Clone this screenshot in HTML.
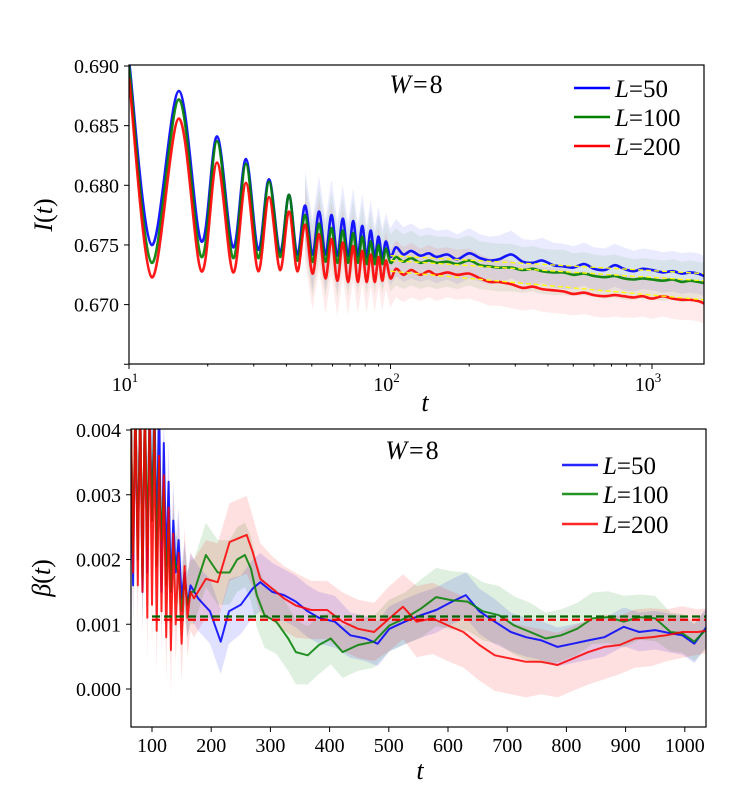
<!DOCTYPE html>
<html><head><meta charset="utf-8"><style>
html,body{margin:0;padding:0;background:#fff}
svg{display:block;font-family:"Liberation Serif",serif}
</style></head><body>
<svg id="chart" width="731" height="795" viewBox="0 0 731 795" xmlns="http://www.w3.org/2000/svg">
<defs>
<clipPath id="clipT"><rect x="129" y="65" width="575" height="299"/></clipPath>
<clipPath id="clipB"><rect x="131" y="429" width="575" height="298"/></clipPath>
</defs>
<g id="topPanel"></g>
<g id="botPanel"></g>
</svg>
<script>
// ---------- top panel data ----------
const tTop = [10,12.2,15.5,18.9,21.7,25,28,31.2,34.3,37.8,40.9,44,47.1,50.3,53.3,56.4,59.5,62.6,65.7,68.8,72,75,78,81,84,87,90,93,96,100,
105,112,120,130,140,150,165,180,200,220,240,260,290,320,350,380,420,460,500,550,600,660,720,780,850,920,1000,1100,1200,1300,1400,1500,1580];
const iL50 = [0.6905,0.6750,0.6879,0.6753,0.6841,0.6748,0.6822,0.6746,0.6805,0.6744,0.6792,0.6742,0.6783,0.6742,0.6778,0.6742,0.6775,0.6741,0.6772,0.6741,0.6770,0.6741,0.6766,0.6740,0.6762,0.6740,0.6757,0.6739,0.6753,0.6740,
0.6748,0.6742,0.6745,0.6741,0.6743,0.6740,0.6742,0.6738,0.6743,0.6739,0.6737,0.6738,0.6742,0.6736,0.6735,0.6737,0.6733,0.6732,0.6731,0.6734,0.6730,0.6729,0.6733,0.6730,0.6728,0.6730,0.6729,0.6727,0.6728,0.6726,0.6727,0.6726,0.6724];
const iL100 = [0.6900,0.6735,0.6872,0.6740,0.6837,0.6739,0.6818,0.6739,0.6803,0.6740,0.6792,0.6737,0.6775,0.6736,0.6768,0.6736,0.6764,0.6735,0.6762,0.6735,0.6760,0.6735,0.6757,0.6734,0.6753,0.6734,0.6750,0.6734,0.6747,0.6735,
0.6740,0.6736,0.6739,0.6735,0.6737,0.6735,0.6736,0.6734,0.6737,0.6733,0.6732,0.6731,0.6731,0.6729,0.6730,0.6728,0.6727,0.6727,0.6725,0.6726,0.6724,0.6723,0.6724,0.6722,0.6721,0.6722,0.6721,0.6720,0.6721,0.6719,0.6720,0.6719,0.6718];
const iL200 = [0.6890,0.6723,0.6856,0.6728,0.6819,0.6727,0.6802,0.6728,0.6790,0.6729,0.6778,0.6728,0.6767,0.6726,0.6759,0.6722,0.6755,0.6720,0.6752,0.6719,0.6749,0.6719,0.6745,0.6719,0.6742,0.6719,0.6740,0.6720,0.6737,0.6722,
0.6730,0.6725,0.6729,0.6725,0.6728,0.6725,0.6727,0.6725,0.6726,0.6722,0.6719,0.6719,0.6717,0.6714,0.6715,0.6713,0.6712,0.6711,0.6709,0.6710,0.6708,0.6707,0.6708,0.6707,0.6706,0.6707,0.6705,0.6707,0.6705,0.6704,0.6704,0.6703,0.6701];
const bandTop = [0,0,0,0,0,0,0,0,0,0,0,0,0.003,0.003,0.003,0.003,0.003,0.003,0.0028,0.0028,0.0028,0.0027,0.0027,0.0026,0.0026,0.0025,0.0025,0.0025,0.0024,0.0024,
0.0024,0.0023,0.0023,0.0022,0.0022,0.0022,0.0021,0.0021,0.0021,0.0020,0.0020,0.0020,0.0020,0.0019,0.0019,0.0019,0.0019,0.0019,0.0018,0.0018,0.0018,0.0018,0.0018,0.0018,0.0017,0.0017,0.0017,0.0017,0.0017,0.0017,0.0017,0.0017,0.0017];
const fitT = [100,1580];
const fit50 = [0.6741,0.6726];
const fit100 = [0.6737,0.6720];
const fit200 = [0.6728,0.6704];
const yTicksTop = [0.690,0.685,0.680,0.675,0.670,0.665];
const yTickLabelsTop = ["0.690","0.685","0.680","0.675","0.670",""];
const xMajorTop = [10,100,1000];
const xMajorLabelsTop = ["1","2","3"];

// ---------- bottom panel data (beta in units of 1e-3) ----------
const tB50 = [64,68,72,76,80,84,88,92,96,100,104,108,112,116,120,124,128,132,136,140,145,150,155,160,165,
178,198,216,230,250,270,283,303,323,343,363,382,409,435,461,481,501,527,554,580,607,630,653,679,706,732,758,785,811,837,864,897,923,950,976,996,1016,1036];
const bL50 = [4.5,1.6,4.5,2.0,4.5,1.5,4.5,1.8,4.5,2.6,4.5,2.2,4.5,1.5,3.8,1.9,3.2,1.5,2.6,1.8,2.3,1.4,1.8,1.3,1.6,
1.40,1.20,0.73,1.20,1.30,1.55,1.65,1.50,1.45,1.35,1.20,1.10,1.04,0.83,0.78,0.70,0.93,1.04,1.14,1.22,1.35,1.45,1.20,1.04,0.88,0.80,0.75,0.65,0.70,0.75,0.80,0.96,0.88,0.91,0.86,0.83,0.70,0.95];
const hw50 = [0.6,0.6,0.6,0.6,0.6,0.6,0.6,0.6,0.6,0.6,0.6,0.6,0.6,0.6,0.6,0.6,0.6,0.6,0.6,0.5,0.5,0.5,0.5,0.5,0.5,
0.5,0.5,0.5,0.5,0.45,0.45,0.45,0.45,0.4,0.4,0.4,0.4,0.4,0.35,0.35,0.35,0.35,0.35,0.35,0.35,0.35,0.35,0.35,0.35,0.3,0.3,0.3,0.3,0.3,0.3,0.3,0.3,0.3,0.3,0.3,0.3,0.3,0.3];
const tB100 = [64,68,72,76,80,84,88,92,96,100,104,108,112,116,120,124,128,132,136,140,145,150,155,160,165,
171,191,211,231,244,257,267,277,290,310,330,343,363,382,402,422,448,475,501,527,554,580,607,633,659,686,712,739,765,791,818,844,870,897,923,950,976,996,1016,1036];
const bL100 = [4.5,2.1,4.5,2.0,4.5,1.7,4.5,2.2,4.2,2.6,4.3,1.9,3.5,2.3,3.1,1.6,2.6,1.5,2.2,1.9,1.8,1.2,1.7,1.3,1.5,
1.50,2.07,1.80,1.80,2.00,2.07,1.86,1.45,1.14,1.04,0.78,0.57,0.52,0.68,0.78,0.57,0.68,0.73,0.98,1.09,1.24,1.42,1.37,1.35,1.20,1.14,0.98,0.88,0.78,0.83,0.93,1.09,1.11,1.04,1.11,1.09,0.88,0.86,0.73,0.92];
const hw100 = [0.6,0.6,0.6,0.6,0.6,0.6,0.6,0.6,0.6,0.6,0.6,0.6,0.6,0.6,0.6,0.6,0.6,0.6,0.6,0.5,0.5,0.5,0.5,0.5,0.5,
0.5,0.5,0.5,0.5,0.5,0.5,0.5,0.5,0.5,0.5,0.5,0.5,0.45,0.45,0.4,0.4,0.4,0.4,0.4,0.4,0.45,0.45,0.45,0.45,0.45,0.45,0.45,0.45,0.4,0.4,0.4,0.4,0.4,0.4,0.35,0.35,0.3,0.3,0.3,0.3];
const tB200 = [64,68,72,76,80,84,88,92,96,100,104,108,112,116,120,124,128,132,136,140,145,150,155,160,165,
171,191,211,231,244,260,270,283,303,323,343,369,396,422,448,475,501,524,547,574,600,626,653,679,706,732,758,785,811,837,864,890,916,943,969,996,1022,1036];
const bL200 = [4.5,1.8,4.5,1.6,4.5,1.5,4.5,1.1,4.4,1.3,4.1,0.9,3.6,1.2,3.3,0.8,2.8,0.6,2.4,1.0,2.1,0.7,1.9,1.1,1.5,
1.40,1.70,1.65,2.27,2.32,2.38,2.12,1.70,1.55,1.40,1.29,1.22,1.22,1.04,0.93,0.88,1.09,1.27,1.04,1.09,0.98,0.88,0.68,0.52,0.47,0.42,0.42,0.37,0.47,0.57,0.65,0.68,0.78,0.80,0.83,0.88,0.88,0.90];
const hw200 = [0.7,0.7,0.7,0.7,0.7,0.7,0.7,0.7,0.7,0.7,0.7,0.7,0.7,0.7,0.7,0.7,0.7,0.7,0.7,0.6,0.6,0.6,0.6,0.6,0.6,
0.6,0.6,0.6,0.6,0.6,0.6,0.55,0.55,0.5,0.5,0.5,0.45,0.45,0.45,0.45,0.45,0.5,0.5,0.55,0.55,0.55,0.55,0.55,0.55,0.55,0.55,0.5,0.5,0.5,0.5,0.5,0.45,0.45,0.45,0.4,0.4,0.35,0.35];
const constT = [100,1036];
const const100 = 1.12;
const const200 = 1.07;
const yTicksBot = [0,1,2,3,4];
const yTickLabelsBot = ["0.000","0.001","0.002","0.003","0.004"];
const xTicksBot = [100,200,300,400,500,600,700,800,900,1000];

// ---------- helpers ----------
const NS = "http://www.w3.org/2000/svg";
function mk(tag, attrs, parent){const e=document.createElementNS(NS,tag);for(const k in attrs)e.setAttribute(k,attrs[k]);parent.appendChild(e);return e;}
const xT = t => 129 + (Math.log10(t)-1)*261.5;
const yT = v => 66 + (0.690 - v)/0.001*11.93;
const xB = t => 152 + (t-100)*0.592;
const yB = v => 689 - v*64.75;
function smooth(pts){
  let d = "M"+pts[0][0].toFixed(1)+","+pts[0][1].toFixed(1);
  for(let i=0;i<pts.length-1;i++){
    const p0=pts[Math.max(0,i-1)],p1=pts[i],p2=pts[i+1],p3=pts[Math.min(pts.length-1,i+2)];
    const c1=[p1[0]+(p2[0]-p0[0])/6,p1[1]+(p2[1]-p0[1])/6];
    const c2=[p2[0]-(p3[0]-p1[0])/6,p2[1]-(p3[1]-p1[1])/6];
    d+="C"+c1[0].toFixed(1)+","+c1[1].toFixed(1)+" "+c2[0].toFixed(1)+","+c2[1].toFixed(1)+" "+p2[0].toFixed(1)+","+p2[1].toFixed(1);
  }
  return d;
}
function poly(pts){return "M"+pts.map(p=>p[0].toFixed(1)+","+p[1].toFixed(1)).join("L");}
function txt(parent,x,y,s,size,anchor,extra){const e=mk("text",Object.assign({x:x,y:y,"font-size":size,"text-anchor":anchor||"start",fill:"#000"},extra||{}),parent);e.textContent=s;return e;}
function richLabel(parent,parts,attrs){
  const e=mk("text",attrs,parent);
  parts.forEach(p=>{const s=mk("tspan",p[1]?{"font-style":"italic"}:{},e);s.textContent=p[0];});
  return e;
}

// ---------- top panel ----------
const topG = document.getElementById("topPanel");
const gT = mk("g",{"clip-path":"url(#clipT)"},topG);
const seriesTop = [[iL50,"#0000ff","l50"],[iL100,"#008000","l100"],[iL200,"#ff0000","l200"]];
seriesTop.forEach(s=>{
  const up=[],lo=[];
  for(let i=0;i<tTop.length;i++){ if(bandTop[i]>0){up.push([xT(tTop[i]),yT(s[0][i]+bandTop[i])]);lo.push([xT(tTop[i]),yT(s[0][i]-bandTop[i])]);} }
  const band = mk("path",{d:poly(up.concat(lo.reverse()))+"Z",fill:s[1],"fill-opacity":0.08,stroke:"none"},gT);
  
  
});
seriesTop.forEach(s=>{
  const pts=tTop.map((t,i)=>[xT(t),yT(s[0][i])]);
  const p = mk("path",{d:smooth(pts),fill:"none",stroke:s[1],"stroke-width":2.6,"stroke-opacity":0.9},gT);
  
  
});
[fit50,fit100,fit200].forEach((f,k)=>{
  const l = mk("line",{x1:xT(fitT[0]),y1:yT(f[0]),x2:xT(fitT[1]),y2:yT(f[1]),stroke:"#ffff00","stroke-width":1.3,"stroke-dasharray":"5,3"},gT);
  
  
});
const frT = mk("rect",{x:129,y:65,width:575,height:299,fill:"none",stroke:"#000","stroke-width":1.2},topG);


yTicksTop.forEach((v,i)=>{
  mk("line",{x1:124,y1:yT(v),x2:129,y2:yT(v),stroke:"#000","stroke-width":1},topG);
  const t = txt(topG,119,yT(v)+7,yTickLabelsTop[i],20,"end");
  
  
});
for(let dec=10;dec<=1000;dec*=10){
  for(let m=1;m<10;m++){
    const t=dec*m; if(t>1580) break;
    const major = m===1;
    mk("line",{x1:xT(t),y1:364,x2:xT(t),y2:major?369:366.5,stroke:"#000","stroke-width":1},topG);
  }
}
xMajorTop.forEach((t,i)=>{
  const e = mk("text",{x:xT(t)-4,y:391,"font-size":20,"text-anchor":"middle",fill:"#000"},topG);
  const a = mk("tspan",{},e); a.textContent="10";
  const s = mk("tspan",{"font-size":13,dy:-9},e); s.textContent=xMajorLabelsTop[i];
  
  
});
const xlT = txt(topG,425,411,"t",26,"middle",{"font-style":"italic"});


const ylT = richLabel(topG,[["I",true],["(",false],["t",true],[")",false]],{x:0,y:0,"font-size":26,"text-anchor":"middle",fill:"#000",transform:"translate(52,215) rotate(-90)"});


const wT = richLabel(topG,[["W",true],["=8",false]],{x:417,y:93,"font-size":26,"text-anchor":"middle",fill:"#000","letter-spacing":"2"});


[["50","#0000ff",88],["100","#008000",117],["200","#ff0000",146]].forEach(l=>{
  const g = mk("g",{},topG);
  
  
  mk("line",{x1:574,y1:l[2],x2:610,y2:l[2],stroke:l[1],"stroke-width":2.5},g);
  richLabel(g,[["L",true],["="+l[0],false]],{x:615,y:l[2]+9,"font-size":25,fill:"#000"});
});

// ---------- bottom panel ----------
const botG = document.getElementById("botPanel");
const gB = mk("g",{"clip-path":"url(#clipB)"},botG);
const seriesBot = [[tB50,bL50,hw50,"#0000ff","l50"],[tB100,bL100,hw100,"#008000","l100"],[tB200,bL200,hw200,"#ff0000","l200"]];
seriesBot.forEach(s=>{
  const up=s[0].map((t,i)=>[xB(t),yB(s[1][i]+s[2][i])]);
  const lo=s[0].map((t,i)=>[xB(t),yB(s[1][i]-s[2][i])]).reverse();
  const band = mk("path",{d:poly(up.concat(lo))+"Z",fill:s[3],"fill-opacity":0.12,stroke:"none"},gB);
  
  
});
seriesBot.forEach(s=>{
  const p = mk("path",{d:poly(s[0].map((t,i)=>[xB(t),yB(s[1][i])])),fill:"none",stroke:s[3],"stroke-width":2,"stroke-opacity":0.85,"stroke-linejoin":"round"},gB);
  
  
});
[[const100,"#006400","100"],[const200,"#ee0000","200"]].forEach(c=>{
  const l = mk("line",{x1:xB(constT[0]),y1:yB(c[0]),x2:xB(constT[1]),y2:yB(c[0]),stroke:c[1],"stroke-width":2.2,"stroke-dasharray":"8,4"},gB);
  
  
});
const frB = mk("rect",{x:131,y:429,width:575,height:298,fill:"none",stroke:"#000","stroke-width":1.2},botG);


yTicksBot.forEach((v,i)=>{
  mk("line",{x1:126,y1:yB(v),x2:131,y2:yB(v),stroke:"#000","stroke-width":1},botG);
  const t = txt(botG,121,yB(v)+7,yTickLabelsBot[i],20,"end");
  
  
});
xTicksBot.forEach(v=>{
  mk("line",{x1:xB(v),y1:727,x2:xB(v),y2:732,stroke:"#000","stroke-width":1},botG);
  const t = txt(botG,xB(v),752,String(v),20,"middle");
  
  
});
const xlB = txt(botG,420,779,"t",26,"middle",{"font-style":"italic"});


const ylB = richLabel(botG,[["β",true],["(",false],["t",true],[")",false]],{x:0,y:0,"font-size":26,"text-anchor":"middle",fill:"#000",transform:"translate(50,578) rotate(-90)"});


const wB = richLabel(botG,[["W",true],["=8",false]],{x:413,y:459,"font-size":26,"text-anchor":"middle",fill:"#000","letter-spacing":"2"});


[["50","#0000ff",465],["100","#008000",494],["200","#ff0000",524]].forEach(l=>{
  const g = mk("g",{},botG);
  
  
  mk("line",{x1:562,y1:l[2],x2:598,y2:l[2],stroke:l[1],"stroke-width":2.5,"stroke-opacity":0.85},g);
  richLabel(g,[["L",true],["="+l[0],false]],{x:603,y:l[2]+9,"font-size":25,fill:"#000"});
});
</script>
</body></html>
